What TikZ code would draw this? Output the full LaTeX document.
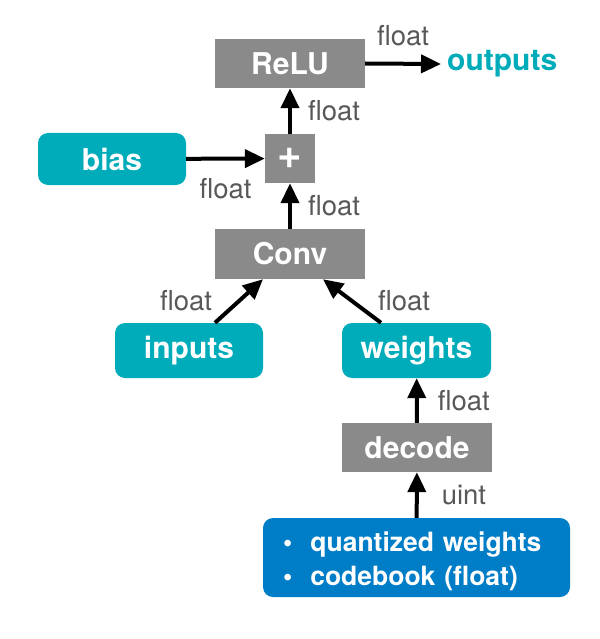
\documentclass[tikz,border=0pt]{standalone}
\usepackage{fontspec}
\setmainfont{TeX Gyre Heros}
\usetikzlibrary{arrows.meta}

\definecolor{opgray}{RGB}{138,138,138}
\definecolor{dteal}{RGB}{0,172,186}
\definecolor{dblue}{RGB}{0,125,199}
\definecolor{lblgray}{RGB}{88,88,88}

\begin{document}
\begin{tikzpicture}[x=1pt, y=-1pt]
    \tikzset{op/.style={fill=opgray, text=white, inner sep=0pt, font=\fontsize{30}{36}\selectfont\bfseries},
             tensor/.style={fill=dteal, text=white, rounded corners=10pt, inner sep=0pt, font=\fontsize{30}{36}\selectfont\bfseries},
             flow/.style={line width=4pt, -{Triangle[length=20pt, width=18pt]}},
             lbl/.style={text=lblgray, inner sep=0pt, font=\fontsize{27.5}{32}\selectfont}} %% styles
    \useasboundingbox (0,0) rectangle (599,639);

    \node[op, minimum width=150pt, minimum height=49pt] (relu)   at (290,63.5)  {ReLU};
    \node[op, minimum width=50pt,  minimum height=49pt, font=\fontsize{42}{42}\selectfont\bfseries] (plus) at (290,158.5) {+};
    \node[op, minimum width=150pt, minimum height=50pt] (conv)   at (290,254)   {Conv};
    \node[op, minimum width=150pt, minimum height=49pt] (decode) at (417,447.5) {decode};

    \node[tensor, minimum width=148pt, minimum height=52pt] (bias)    at (112,159)     {bias};
    \node[tensor, minimum width=148pt, minimum height=55pt] (inputs)  at (189,350.5)   {inputs};
    \node[tensor, minimum width=149pt, minimum height=55pt] (weights) at (416.5,350.5) {weights};
    \node[tensor, fill=dblue, minimum width=307pt, minimum height=79pt, text width=267pt, align=left,
          font=\fontsize{26.5}{34}\selectfont\bfseries] (codebook) at (416.5,557.5)
          {\rule{0pt}{28pt}\textbullet\hspace{18pt}quantized weights\\\textbullet\hspace{18pt}codebook (float)};

    \node[anchor=west, text=dteal, inner sep=0pt, font=\fontsize{30}{36}\selectfont\bfseries] (outputs) at (447,64) {outputs};

    \draw[flow] (relu.east) -- ([xshift=-6pt]outputs.west) node[lbl, midway, above=16pt] {float};
    \draw[flow] (plus) -- (relu) node[lbl, midway, right=16pt] {float};
    \draw[flow] (bias) -- (plus) node[lbl, midway, below=18pt] {float};
    \draw[flow] (conv) -- (plus) node[lbl, midway, right=16pt] {float};
    \draw[flow] ([xshift=26pt]inputs.north) -- ([xshift=-27pt]conv.south) node[lbl, midway, left=25pt] {float};
    \draw[flow] ([xshift=-35.5pt]weights.north) -- ([xshift=33pt]conv.south) node[lbl, midway, right=24pt] {float};
    \draw[flow] (decode) -- (weights) node[lbl, midway, right=19pt] {float};
    \draw[flow] (codebook) -- (decode) node[lbl, midway, right=23pt] {uint};
\end{tikzpicture}
\end{document}
